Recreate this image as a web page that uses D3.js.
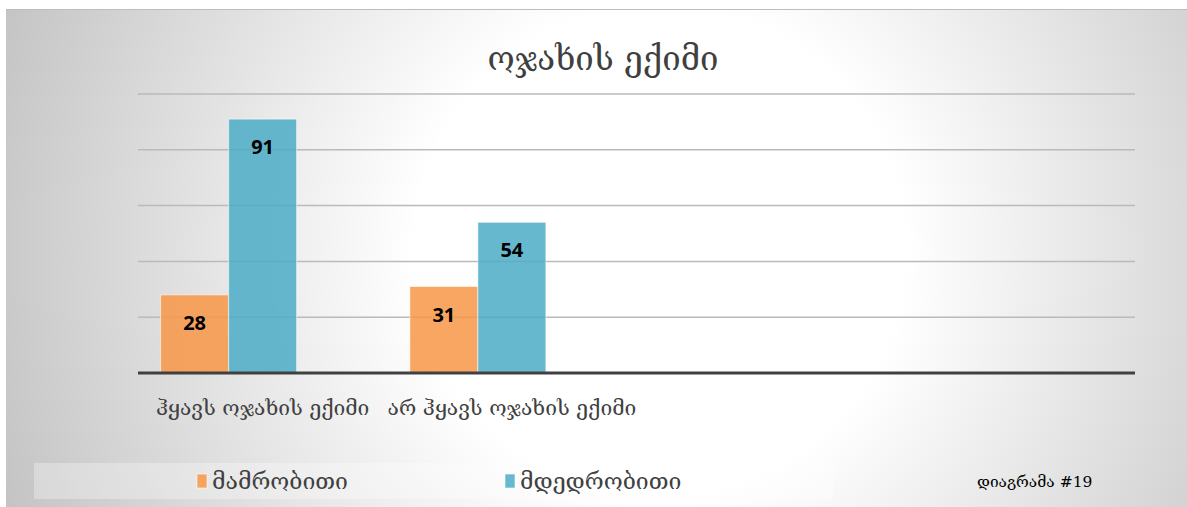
<!DOCTYPE html>
<html>
<head>
<meta charset="utf-8">
<script src="https://cdn.jsdelivr.net/npm/d3@7"></script>
<style>
  body { margin: 0; background: #fff; }
  svg { display: block; }
</style>
</head>
<body>
<div id="chart"></div>
<script>
// data
var categories = ["ჰყავს ოჯახის ექიმი", "არ ჰყავს ოჯახის ექიმი", "", ""];
var seriesNames = ["მამრობითი", "მდედრობითი"];
var maleValues = [28, 31, null, null];
var femaleValues = [91, 54, null, null];
var yTicks = [0, 20, 40, 60, 80, 100];
var chartTitle = "ოჯახის ექიმი";
var noteText = "დიაგრამა #19";

var seriesValues = [maleValues, femaleValues];
var colors = ["#F79646", "#4BACC6"];

var width = 1187, height = 507;
var geo = "DejaVu Serif, serif";

var svg = d3.select("#chart").append("svg")
    .attr("width", width)
    .attr("height", height);

var defs = svg.append("defs");
var grad = defs.append("radialGradient")
    .attr("id", "bg")
    .attr("gradientUnits", "userSpaceOnUse")
    .attr("cx", 660).attr("cy", 250).attr("r", 700);
grad.append("stop").attr("offset", "0").attr("stop-color", "#ffffff");
grad.append("stop").attr("offset", "0.35").attr("stop-color", "#ffffff");
grad.append("stop").attr("offset", "1").attr("stop-color", "#c4c4c4");

svg.append("rect")
    .attr("x", 6).attr("y", 9)
    .attr("width", width - 6).attr("height", height - 9)
    .attr("fill", "url(#bg)");
svg.append("line")
    .attr("x1", 6).attr("x2", width)
    .attr("y1", 9.5).attr("y2", 9.5)
    .attr("stroke", "#bdbdbd");

var margin = {left: 138, right: 52, top: 94, bottom: 134};
var plotW = width - margin.left - margin.right;
var plotH = height - margin.top - margin.bottom;

var x0 = d3.scaleBand()
    .domain(d3.range(categories.length))
    .range([margin.left, margin.left + plotW])
    .padding(0);

// three slots per category, the third one stays empty
var x1 = d3.scaleBand()
    .domain(d3.range(3))
    .range([0, x0.bandwidth()])
    .paddingInner(0)
    .paddingOuter(0.333);

var y = d3.scaleLinear()
    .domain([0, 100])
    .range([margin.top + plotH, margin.top]);

// title
svg.append("text")
    .attr("x", 603).attr("y", 70)
    .attr("text-anchor", "middle")
    .attr("font-family", geo)
    .attr("font-size", 33)
    .attr("fill", "#404040")
    .text(chartTitle);

// gridlines
svg.append("g")
  .selectAll("line")
  .data(yTicks.slice(1))
  .enter().append("line")
    .attr("x1", margin.left).attr("x2", margin.left + plotW)
    .attr("y1", function(d) { return y(d); })
    .attr("y2", function(d) { return y(d); })
    .attr("stroke", "#bababa")
    .attr("stroke-width", 1.5);

// bars
var groups = svg.append("g")
  .selectAll("g")
  .data(categories)
  .enter().append("g")
    .attr("transform", function(d, i) { return "translate(" + x0(i) + ",0)"; });

var bars = groups.selectAll("g.bar")
  .data(function(d, i) {
    return seriesValues.map(function(vals, s) { return {s: s, v: vals[i]}; })
      .filter(function(b) { return b.v != null; });
  })
  .enter().append("g")
    .attr("class", "bar");

bars.append("rect")
    .attr("x", function(d) { return x1(d.s); })
    .attr("y", function(d) { return y(d.v); })
    .attr("width", x1.bandwidth())
    .attr("height", function(d) { return y(0) - y(d.v); })
    .attr("fill", function(d) { return colors[d.s]; })
    .attr("fill-opacity", 0.85)
    .attr("stroke", "rgba(255,255,255,0.55)")
    .attr("stroke-width", 1);

bars.append("text")
    .attr("x", function(d) { return x1(d.s) + x1.bandwidth() / 2; })
    .attr("y", function(d) { return y(d.v) + 35; })
    .attr("text-anchor", "middle")
    .attr("font-family", "Open Sans, sans-serif")
    .attr("font-weight", "bold")
    .attr("font-size", 20)
    .attr("fill", "#000")
    .text(function(d) { return d.v; });

// baseline
svg.append("line")
    .attr("x1", margin.left).attr("x2", margin.left + plotW)
    .attr("y1", y(0)).attr("y2", y(0))
    .attr("stroke", "#404040")
    .attr("stroke-width", 3);

// category labels
svg.append("g")
  .selectAll("text")
  .data(categories)
  .enter().append("text")
    .attr("x", function(d, i) { return x0(i) + x0.bandwidth() / 2; })
    .attr("y", 415)
    .attr("text-anchor", "middle")
    .attr("font-family", geo)
    .attr("font-size", 21)
    .attr("fill", "#404040")
    .text(function(d) { return d; });

// legend
svg.append("rect")
    .attr("x", 34).attr("y", 463)
    .attr("width", 799).attr("height", 36)
    .attr("fill", "#ffffff")
    .attr("fill-opacity", 0.3);

var legendX = [197, 505];
var leg = svg.append("g")
  .selectAll("g")
  .data(seriesNames)
  .enter().append("g")
    .attr("transform", function(d, i) { return "translate(" + legendX[i] + ",474)"; });

leg.append("rect")
    .attr("width", 10).attr("height", 14)
    .attr("fill", function(d, i) { return colors[i]; })
    .attr("fill-opacity", 0.85)
    .attr("stroke", "rgba(255,255,255,0.6)");

leg.append("text")
    .attr("x", 15).attr("y", 15)
    .attr("font-family", geo)
    .attr("font-size", 23)
    .attr("fill", "#404040")
    .text(function(d) { return d; });

svg.append("text")
    .attr("x", 977).attr("y", 487)
    .attr("font-family", geo)
    .attr("font-size", 15.5)
    .attr("fill", "#000")
    .text(noteText);
</script>
</body>
</html>
